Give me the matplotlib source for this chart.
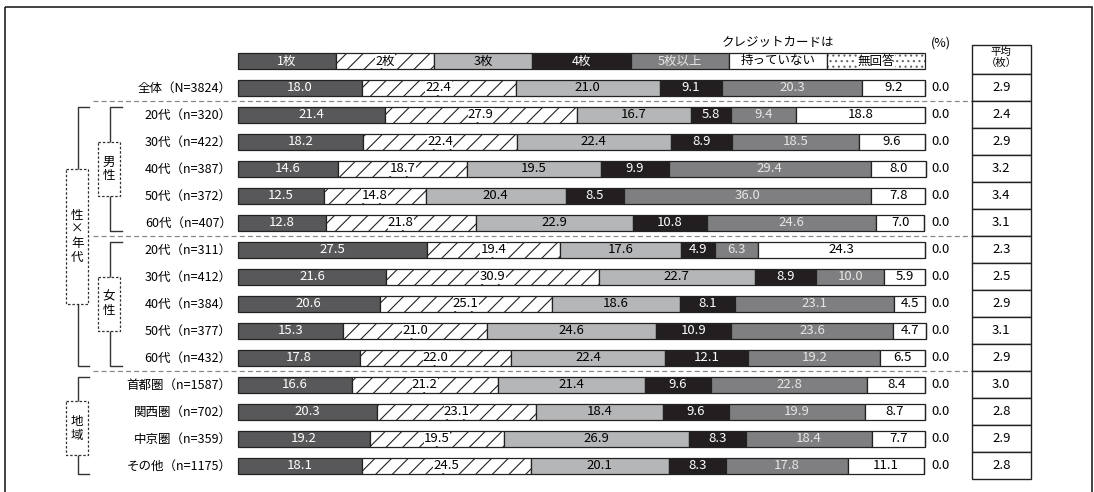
import matplotlib.pyplot as plt
from matplotlib.patches import Rectangle

plt.rcParams['font.family'] = ['Noto Sans CJK JP', 'DejaVu Sans']
plt.rcParams['hatch.linewidth'] = 0.8

# 所有枚数の区分
categories = ['1枚', '2枚', '3枚', '4枚', '5枚以上', 'クレジットカードは持っていない', '無回答']

row_labels = [
    '全体（N=3824）',
    '20代（n=320）', '30代（n=422）', '40代（n=387）', '50代（n=372）', '60代（n=407）',
    '20代（n=311）', '30代（n=412）', '40代（n=384）', '50代（n=377）', '60代（n=432）',
    '首都圏（n=1587）', '関西圏（n=702）', '中京圏（n=359）', 'その他（n=1175）',
]

one_card = [18.0, 21.4, 18.2, 14.6, 12.5, 12.8, 27.5, 21.6, 20.6, 15.3, 17.8, 16.6, 20.3, 19.2, 18.1]
two_cards = [22.4, 27.9, 22.4, 18.7, 14.8, 21.8, 19.4, 30.9, 25.1, 21.0, 22.0, 21.2, 23.1, 19.5, 24.5]
three_cards = [21.0, 16.7, 22.4, 19.5, 20.4, 22.9, 17.6, 22.7, 18.6, 24.6, 22.4, 21.4, 18.4, 26.9, 20.1]
four_cards = [9.1, 5.8, 8.9, 9.9, 8.5, 10.8, 4.9, 8.9, 8.1, 10.9, 12.1, 9.6, 9.6, 8.3, 8.3]
five_plus = [20.3, 9.4, 18.5, 29.4, 36.0, 24.6, 6.3, 10.0, 23.1, 23.6, 19.2, 22.8, 19.9, 18.4, 17.8]
no_card = [9.2, 18.8, 9.6, 8.0, 7.8, 7.0, 24.3, 5.9, 4.5, 4.7, 6.5, 8.4, 8.7, 7.7, 11.1]
no_answer = [0.0] * 15

average = [2.9, 2.4, 2.9, 3.2, 3.4, 3.1, 2.3, 2.5, 2.9, 3.1, 2.9, 3.0, 2.8, 2.9, 2.8]

series = [one_card, two_cards, three_cards, four_cards, five_plus, no_card, no_answer]
faces = ['#58585a', 'white', '#b5b6b8', '#231f20', '#7f7f81', 'white', 'white']
hatches = [None, '//', None, None, None, None, '...']
text_colors = ['white', 'black', 'black', 'white', '#e6e6e6', 'black', 'black']

fig = plt.figure(figsize=(10.94, 4.92), dpi=100)
ax = fig.add_axes([0, 0, 1, 1])
ax.set_xlim(-34.64, 124.60)
ax.set_ylim(14.963, -3.259)
ax.axis('off')

bar_h = 0.62
val_fs = 9.5
rows = list(range(len(row_labels)))

# 帯グラフ本体
left = [0.0] * len(rows)
for k, vals in enumerate(series):
    ax.barh(rows, vals, left=left, height=bar_h, color=faces[k], hatch=hatches[k],
            edgecolor='#222222', linewidth=0.9, zorder=2)
    for i, v in enumerate(vals):
        if k < 6 and v > 0:
            kw = {}
            if hatches[k]:
                kw['bbox'] = dict(facecolor='white', edgecolor='none', pad=0.2)
            ax.text(left[i] + v / 2, i, f'{v:.1f}', ha='center', va='center',
                    fontsize=val_fs, color=text_colors[k], zorder=4, **kw)
        elif k == 6:
            ax.text(100.9, i, f'{v:.1f}', ha='left', va='center', fontsize=val_fs)
    left = [l + v for l, v in zip(left, vals)]

# 凡例
w = 100 / len(categories)
for k, name in enumerate(categories):
    x0 = k * w
    if k == 6:
        ax.add_patch(Rectangle((x0, -1 - 0.29), w, 0.58, facecolor='white',
                               edgecolor='#666666', linewidth=0, hatch='...', zorder=2))
        ax.add_patch(Rectangle((x0, -1 - 0.29), w, 0.58, facecolor='none',
                               edgecolor='#222222', linewidth=0.9, zorder=3))
    else:
        ax.add_patch(Rectangle((x0, -1 - 0.29), w, 0.58, facecolor=faces[k],
                               hatch=hatches[k], edgecolor='#222222', linewidth=0.9, zorder=2))
    label = name
    if k == 5:
        label = '持っていない'
        ax.text(x0 + w / 2, -1.67, 'クレジットカードは', ha='center', va='center', fontsize=9)
    kw = {}
    if hatches[k]:
        kw['bbox'] = dict(facecolor='white', edgecolor='none', pad=0.4)
    ax.text(x0 + w / 2, -1, label, ha='center', va='center', fontsize=9,
            color=text_colors[k], zorder=4, **kw)
ax.text(102.3, -1.67, '(%)', ha='center', va='center', fontsize=9)

# 行ラベル
for i, lab in enumerate(row_labels):
    ax.text(-0.9, i, lab, ha='right', va='center', fontsize=9)

# 区切り線
for y in [0.5, 5.5, 10.5]:
    ax.plot([-21.1, 106.8], [y, y], color='#888888', linestyle=(0, (4, 2.5)), linewidth=0.9)

# 平均枚数の列
cx0, cx1 = 106.8, 115.4
ax.add_patch(Rectangle((cx0, -1.59), cx1 - cx0, 1.09, facecolor='white',
                       edgecolor='#222222', linewidth=1.0, zorder=3))
ax.text((cx0 + cx1) / 2, -1.35, '平均', ha='center', va='center', fontsize=7.5, zorder=4)
ax.text((cx0 + cx1) / 2, -0.92, '（枚）', ha='center', va='center', fontsize=7.5, zorder=4)
for i, a in enumerate(average):
    ax.add_patch(Rectangle((cx0, i - 0.5), cx1 - cx0, 1.0, facecolor='white',
                           edgecolor='#222222', linewidth=1.0, zorder=3))
    ax.text((cx0 + cx1) / 2, i, f'{a:.1f}', ha='center', va='center', fontsize=val_fs, zorder=4)


# 左側の括弧と区分ボックス
def bracket(x, x_tick, top, bottom):
    ax.plot([x_tick, x, x, x_tick], [top, top, bottom, bottom], color='#333333', linewidth=1.0)


def tag(x0, x1, y0, y1, text):
    ax.add_patch(Rectangle((x0, y0), x1 - x0, y1 - y0, facecolor='white',
                           edgecolor='#333333', linewidth=0.9, linestyle=(0, (2, 1.5)), zorder=3))
    ax.text((x0 + x1) / 2, (y0 + y1) / 2, text, ha='center', va='center',
            fontsize=9, linespacing=1.1, zorder=4)


bracket(-23.3, -21.7, 0.7, 10.3)
tag(-25.0, -21.8, 3.0, 8.0, '性\n×\n年\n代')
bracket(-18.6, -16.9, 0.7, 5.3)
tag(-20.4, -17.2, 2.0, 4.0, '男\n性')
bracket(-18.6, -16.9, 5.7, 10.3)
tag(-20.4, -17.2, 7.0, 9.0, '女\n性')
bracket(-23.3, -21.7, 10.7, 14.3)
tag(-25.0, -21.8, 11.6, 13.6, '地\n域')

# 外枠
ax.add_patch(Rectangle((-33.9, -3.0), 158.2, 18.2, facecolor='none',
                       edgecolor='#222222', linewidth=1.2, clip_on=False))

fig.savefig('out.png', dpi=100)
